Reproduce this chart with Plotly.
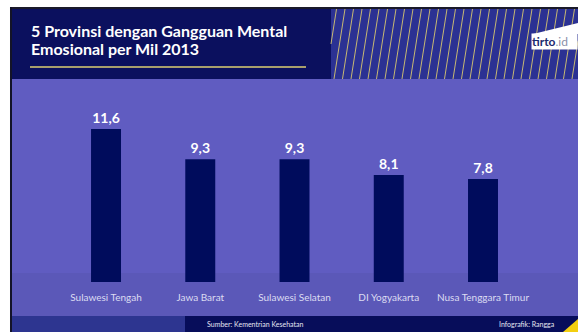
import plotly.graph_objects as go

# Chart data
provinces = ["Sulawesi Tengah", "Jawa Barat", "Sulawesi Selatan", "DI Yogyakarta", "Nusa Tenggara Timur"]
rates = [11.6, 9.3, 9.3, 8.1, 7.8]

W, H = 578, 332


def px(x):
    return round(x / W, 5)


def py(y):
    return round(1 - y / H, 5)


def rect(x0, y0, x1, y1, color, layer="below"):
    return dict(type="rect", xref="paper", yref="paper", x0=px(x0), x1=px(x1),
                y0=py(y1), y1=py(y0), fillcolor=color, line=dict(width=0), layer=layer)


shapes = [
    # header, plot body, lower band, footer
    rect(10, 7, W, 9, "#1a1a2a"),
    rect(10, 7, 12, H, "#141428"),
    rect(12, 9, 331, 79, "#0b105e"),
    rect(331, 9, W, 79, "#2b3193"),
    rect(12, 79, W, 273, "#605cc1"),
    rect(12, 273, W, 316, "#5b58b8"),
    rect(12, 316, 185, H, "#2d3590"),
    rect(185, 316, W, H, "#070d5a"),
    # title underline
    rect(30, 66, 306, 68, "#a89f6c"),
]

# diagonal hatching in the header's right block
sx0, sx1, sy_top, sy_bot, slant = 331, W, 9, 79, 11
for k in range(40):
    xa = 300.0 + 8.5 * k
    if xa > W:
        break
    xt = xa + slant
    x0, y0, x1, y1 = xa, sy_bot, xt, sy_top
    if x0 < sx0:
        y0 = sy_bot + (sx0 - xa) / slant * (sy_top - sy_bot)
        x0 = sx0
    if x1 > sx1:
        y1 = sy_bot + (sx1 - xa) / slant * (sy_top - sy_bot)
        x1 = sx1
    if x0 < x1:
        shapes.append(dict(type="line", xref="paper", yref="paper",
                           x0=px(x0), y0=py(y0), x1=px(x1), y1=py(y1),
                           line=dict(color="#c7b873", width=1), layer="below"))

# logo plate (slanted top part; the lower part is the annotation's background)
shapes.append(dict(type="path", xref="paper", yref="paper",
                   path=f"M{px(533)},{py(34)}L{px(W)},{py(23)}L{px(W)},{py(34)}Z",
                   fillcolor="#ffffff", line=dict(width=0), layer="above"))

# yellow corner
shapes.append(dict(type="path", xref="paper", yref="paper",
                   path=f"M{px(563)},{py(H)}L{px(W)},{py(319)}L{px(W)},{py(H)}Z",
                   fillcolor="#f3cf10", line=dict(width=0), layer="above"))

fig = go.Figure()
fig.add_trace(go.Bar(
    x=provinces, y=rates,
    width=0.318,
    marker=dict(color="#000c5c", line=dict(width=0)),
    texttemplate="<b>%{y:.1f}</b>", textposition="outside",
    textfont=dict(family="Lato", size=14, color="#ffffff"),
    constraintext="none", cliponaxis=False,
    hoverinfo="skip",
))

ppu = 13.2  # pixels per unit
zero_y = 282

annotations = [
    dict(text="<b>5 Provinsi dengan Gangguan Mental</b>", x=px(29), y=py(31), xref="paper", yref="paper",
         xanchor="left", yanchor="middle", showarrow=False,
         font=dict(family="Lato", size=16, color="#ffffff", weight=700)),
    dict(text="<b>Emosional per Mil 2013</b>", x=px(29), y=py(49), xref="paper", yref="paper",
         xanchor="left", yanchor="middle", showarrow=False,
         font=dict(family="Lato", size=16, color="#ffffff", weight=700)),
    dict(text="<b>tirto</b><span style='color:#8a8fa8'>.id</span>", x=1, y=py(41.5),
         xref="paper", yref="paper", xanchor="right", yanchor="middle", showarrow=False,
         width=45, height=15, align="left", bgcolor="#ffffff", borderpad=0,
         font=dict(family="Lato", size=12, color="#1b2a6e")),
    dict(text="Sumber: Kementrian Kesehatan", x=px(205), y=py(324), xref="paper", yref="paper",
         xanchor="left", yanchor="middle", showarrow=False,
         font=dict(family="Lato", size=7, color="#e6e6f2")),
    dict(text="Infografik: Rangga", x=px(497), y=py(324), xref="paper", yref="paper",
         xanchor="left", yanchor="middle", showarrow=False,
         font=dict(family="Lato", size=7, color="#e6e6f2")),
]

fig.update_layout(
    width=W, height=H,
    margin=dict(l=0, r=0, t=0, b=0, autoexpand=False),
    paper_bgcolor="#ffffff", plot_bgcolor="rgba(0,0,0,0)",
    separators=",.",
    showlegend=False,
    shapes=shapes,
    annotations=annotations,
    xaxis=dict(range=[-1.125, 5.008], showgrid=False, zeroline=False, showline=False,
               ticks="", tickfont=dict(family="Lato", size=10, color="#dcdcf2"),
               ticklabelstandoff=8, fixedrange=True, automargin=False),
    yaxis=dict(domain=[(H - zero_y) / H, 1], range=[0, zero_y / ppu], visible=False,
               fixedrange=True, automargin=False),
)

fig.write_html("out.html", config={"displayModeBar": False})
